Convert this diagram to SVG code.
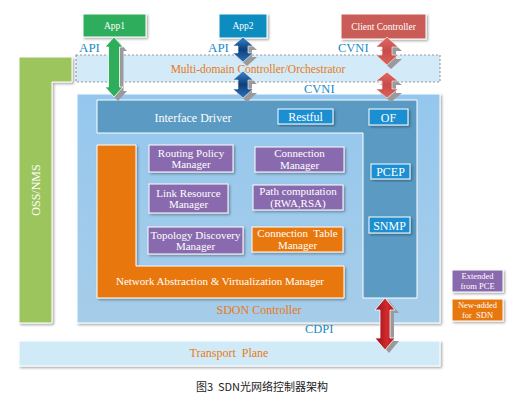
<svg xmlns="http://www.w3.org/2000/svg" width="524" height="407" viewBox="0 0 524 407">
<defs>
<style>
.t{font-family:"Liberation Serif","Times New Roman",serif;}
.w{fill:#ffffff;}
.o{fill:#e87a14;}
.b{fill:#1a8bc6;}
.box{stroke:#ffffff;stroke-width:1;}
.pur{fill:#8a6aae;}
.org{fill:#e8780e;}
.btn{fill:#1a8fd2;stroke:#ffffff;stroke-width:1;}
.sh{fill:#9a9a9a;}
</style>
<filter id="ds" x="-10%" y="-10%" width="130%" height="130%">
<feDropShadow dx="1.5" dy="1.5" stdDeviation="0.8" flood-color="#000" flood-opacity="0.35"/>
</filter>
<linearGradient id="gBlue" x1="0" y1="0" x2="0" y2="1">
<stop offset="0" stop-color="#3a86c8"/>
<stop offset="0.5" stop-color="#0d3f7e"/>
<stop offset="1" stop-color="#2a74b8"/>
</linearGradient>
<linearGradient id="gRed" x1="0" y1="0" x2="0" y2="1">
<stop offset="0" stop-color="#e06a66"/>
<stop offset="0.5" stop-color="#c94a48"/>
<stop offset="1" stop-color="#dc625e"/>
</linearGradient>
<linearGradient id="gDark" x1="0" y1="0" x2="1" y2="0">
<stop offset="0" stop-color="#8e1016"/>
<stop offset="0.6" stop-color="#d52a2e"/>
<stop offset="1" stop-color="#a8161b"/>
</linearGradient>
<linearGradient id="gSky" x1="0" y1="0" x2="0" y2="1">
<stop offset="0" stop-color="#95c7ee"/>
<stop offset="1" stop-color="#a6cde9"/>
</linearGradient>
</defs>
<rect width="524" height="407" fill="#ffffff"/>

<g id="oss-nms">
<path d="M19,57 L72,57 L72,82 L52,82 L52,323 L19,323 Z" fill="#9dc55d" stroke="#ffffff" filter="url(#ds)"/>
<text class="t w" font-size="12" transform="translate(40,190) rotate(-90)" text-anchor="middle">OSS/NMS</text>
</g>

<g id="multi-domain">
<rect x="76" y="55" width="364" height="27" fill="#d3eaf8" stroke="#9a9a9a" stroke-width="1.2" stroke-dasharray="2,2"/>
<text class="t o" x="258" y="73" font-size="11.5" text-anchor="middle">Multi-domain Controller/Orchestrator</text>
</g>

<g id="sdon-controller">
<rect x="77" y="94" width="363" height="229" fill="url(#gSky)" stroke="#ffffff" filter="url(#ds)"/>
<text class="t o" x="259" y="314" font-size="12" text-anchor="middle">SDON Controller</text>
</g>

<g id="interface-driver">
<path d="M97,100 L417,100 L417,298 L363,298 L363,133 L97,133 Z" fill="#5a9ac3" stroke="#ffffff"/>
<text class="t w" x="193" y="122" font-size="12" text-anchor="middle">Interface Driver</text>
</g>

<g id="restful"><rect class="btn" x="278" y="109" width="55" height="15" filter="url(#ds)"/><text class="t w" x="305.5" y="121" font-size="12" text-anchor="middle">Restful</text></g>
<g id="of"><rect class="btn" x="369" y="109" width="39" height="16" filter="url(#ds)"/><text class="t w" x="388.5" y="121.5" font-size="12" text-anchor="middle">OF</text></g>
<g id="pcep"><rect class="btn" x="371" y="164" width="39" height="15" filter="url(#ds)"/><text class="t w" x="390.5" y="176" font-size="12" text-anchor="middle">PCEP</text></g>
<g id="snmp"><rect class="btn" x="369" y="217" width="41" height="16" filter="url(#ds)"/><text class="t w" x="389.5" y="229.5" font-size="12" text-anchor="middle">SNMP</text></g>

<g id="nav-manager">
<path d="M97,145 L136,145 L136,266 L344,266 L344,298 L97,298 Z" class="org box" filter="url(#ds)"/>
<text class="t w" x="220" y="285" font-size="11" text-anchor="middle">Network Abstraction &amp; Virtualization Manager</text>
</g>

<g id="routing-policy"><rect class="pur box" x="149" y="145" width="84" height="27" filter="url(#ds)"/>
<text class="t w" font-size="11" text-anchor="middle"><tspan x="191" y="156.5">Routing Policy</tspan><tspan x="191" y="168">Manager</tspan></text></g>
<g id="connection-manager"><rect class="pur box" x="255" y="147" width="89" height="25" filter="url(#ds)"/>
<text class="t w" font-size="11" text-anchor="middle"><tspan x="299.5" y="157">Connection</tspan><tspan x="299.5" y="168.5">Manager</tspan></text></g>
<g id="link-resource"><rect class="pur box" x="149" y="184" width="79" height="29" filter="url(#ds)"/>
<text class="t w" font-size="11" text-anchor="middle"><tspan x="188.5" y="196.5">Link Resource</tspan><tspan x="188.5" y="208">Manager</tspan></text></g>
<g id="path-computation"><rect class="pur box" x="253" y="185" width="90" height="25" filter="url(#ds)"/>
<text class="t w" font-size="11" text-anchor="middle"><tspan x="298" y="195">Path computation</tspan><tspan x="298" y="206.5">(RWA,RSA)</tspan></text></g>
<g id="topology-discovery"><rect class="pur box" x="148" y="227" width="95" height="27" filter="url(#ds)"/>
<text class="t w" font-size="11" text-anchor="middle"><tspan x="195.5" y="238.5">Topology Discovery</tspan><tspan x="195.5" y="250">Manager</tspan></text></g>
<g id="connection-table"><rect class="org box" x="252" y="227" width="91" height="25" filter="url(#ds)"/>
<text class="t w" font-size="11" text-anchor="middle"><tspan x="297.5" y="237">Connection&#160; Table</tspan><tspan x="297.5" y="248.5">Manager</tspan></text></g>

<g id="legend-extended"><rect class="pur box" x="452" y="270" width="51" height="22" filter="url(#ds)"/>
<text class="t w" font-size="8.5" text-anchor="middle"><tspan x="477.5" y="278.5">Extended</tspan><tspan x="477.5" y="289">from PCE</tspan></text></g>
<g id="legend-new"><rect class="org box" x="452" y="299" width="51" height="22" filter="url(#ds)"/>
<text class="t w" font-size="8.5" text-anchor="middle"><tspan x="477.5" y="307.5">New-added</tspan><tspan x="477.5" y="318">for&#160; SDN</tspan></text></g>

<g id="transport-plane">
<rect x="19" y="341" width="421" height="25" fill="#d0eaf8" stroke="#ffffff" filter="url(#ds)"/>
<text class="t o" x="229" y="357" font-size="12" text-anchor="middle">Transport&#160; Plane</text>
</g>

<g id="app1"><rect x="83" y="14" width="63" height="23" fill="#2eae5b" stroke="#ffffff" filter="url(#ds)"/><text class="t w" x="114.5" y="29" font-size="9.5" text-anchor="middle">App1</text></g>
<g id="app2"><rect x="219" y="14" width="48" height="24" fill="#0a8dbf" stroke="#ffffff" filter="url(#ds)"/><text class="t w" x="243" y="29" font-size="9.5" text-anchor="middle">App2</text></g>
<g id="client-controller"><rect x="341" y="14" width="85" height="25" fill="#c95c57" stroke="#ffffff" filter="url(#ds)"/><text class="t w" x="383.5" y="29.5" font-size="9.5" text-anchor="middle">Client Controller</text></g>

<g id="connectors">
<g class="sh">
<path transform="translate(4,4)" d="M114,37 L123,47 L119.5,47 L119.5,87 L123,87 L114,97 L105,87 L108.5,87 L108.5,47 L105,47 Z"/>
<path transform="translate(4,4)" d="M243,37 L253,46 L248,46 L248,53 L253,53 L243,62 L233,53 L238,53 L238,46 L233,46 Z"/>
<path transform="translate(4,4)" d="M243,71 L253,80 L248,80 L248,89 L253,89 L243,98 L233,89 L238,89 L238,80 L233,80 Z"/>
<path transform="translate(4,4)" d="M387,37 L398,47 L392,47 L392,55 L398,55 L387,65 L376,55 L382,55 L382,47 L376,47 Z"/>
<path transform="translate(4,4)" d="M387,72 L398,81 L392,81 L392,89 L398,89 L387,98 L376,89 L382,89 L382,81 L376,81 Z"/>
<path transform="translate(4,3)" d="M385,298 L395,310 L390,310 L390,338 L395,338 L385,350 L375,338 L380,338 L380,310 L375,310 Z"/>
</g>
<path d="M114,37 L123,47 L119.5,47 L119.5,87 L123,87 L114,97 L105,87 L108.5,87 L108.5,47 L105,47 Z" fill="#2eae5b" stroke="#ffffff" stroke-width="0.8"/>
<path d="M243,37 L253,46 L248,46 L248,53 L253,53 L243,62 L233,53 L238,53 L238,46 L233,46 Z" fill="url(#gBlue)" stroke="#ffffff" stroke-width="0.6"/>
<path d="M243,71 L253,80 L248,80 L248,89 L253,89 L243,98 L233,89 L238,89 L238,80 L233,80 Z" fill="url(#gBlue)" stroke="#ffffff" stroke-width="0.6"/>
<path d="M387,37 L398,47 L392,47 L392,55 L398,55 L387,65 L376,55 L382,55 L382,47 L376,47 Z" fill="url(#gRed)" stroke="#ffffff" stroke-width="0.6"/>
<path d="M387,72 L398,81 L392,81 L392,89 L398,89 L387,98 L376,89 L382,89 L382,81 L376,81 Z" fill="url(#gRed)" stroke="#ffffff" stroke-width="0.6"/>
<path d="M385,298 L395,310 L390,310 L390,338 L395,338 L385,350 L375,338 L380,338 L380,310 L375,310 Z" fill="url(#gDark)" stroke="#ffffff" stroke-width="0.8"/>
<text class="t b" x="79" y="52" font-size="13">API</text>
<text class="t b" x="208" y="52" font-size="13">API</text>
<text class="t b" x="338" y="52" font-size="12.5">CVNI</text>
<text class="t b" x="304" y="93" font-size="12.5">CVNI</text>
<text class="t b" x="305" y="333" font-size="12.5">CDPI</text>
</g>

<text x="262" y="391" font-family="'Noto Sans CJK SC','Noto Sans',sans-serif" font-size="11" fill="#222222" text-anchor="middle">图3&#160; SDN光网络控制器架构</text>
</svg>
